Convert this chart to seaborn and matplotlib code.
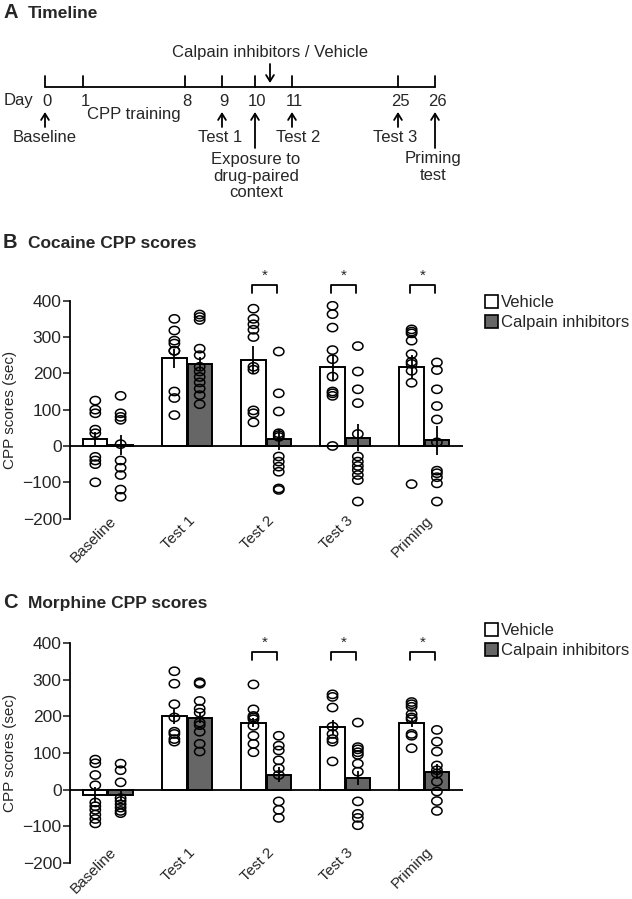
import numpy as np
import pandas as pd
import matplotlib
matplotlib.use("Agg")
import matplotlib.pyplot as plt
from matplotlib.path import Path
from matplotlib.patches import Patch
from matplotlib.transforms import ScaledTranslation
import seaborn as sns

# ---------------- data ----------------
phases = ["Baseline", "Test 1", "Test 2", "Test 3", "Priming"]
groups = ["Vehicle", "Calpain inhibitors"]

# Cocaine (panel B)
coc_veh_mean = [18, 241, 237, 218, 218]
coc_veh_se = [20, 25, 38, 35, 32]
coc_cal_mean = [2, 226, 18, 23, 16]
coc_cal_se = [27, 18, 30, 38, 40]
coc_veh_pts = [
    [125, 100, 90, 45, 35, -30, -40, -50, -100],
    [350, 318, 290, 282, 262, 262, 150, 132, 85],
    [378, 350, 335, 320, 300, 218, 210, 98, 90, 65],
    [386, 363, 326, 264, 239, 191, 150, 145, 138, 0],
    [321, 315, 310, 290, 253, 232, 226, 207, 174, -105],
]
coc_cal_pts = [
    [138, 90, 80, 72, 5, -40, -60, -80, -120, -140],
    [362, 355, 347, 268, 250, 218, 205, 190, 175, 158, 140, 115],
    [260, 145, 95, 35, 30, 25, -29, -43, -57, -71, -117, -121],
    [275, 205, 156, 118, 33, -29, -43, -55, -66, -80, -94, -153],
    [230, 209, 156, 110, 73, 10, -68, -75, -86, -103, -153],
]

# Morphine (panel C)
mor_veh_mean = [-15, 200, 183, 170, 183]
mor_veh_se = [22, 20, 12, 20, 12]
mor_cal_mean = [-15, 196, 41, 32, 49]
mor_cal_se = [12, 15, 20, 20, 20]
mor_veh_pts = [
    [82, 72, 40, 12, -35, -45, -55, -68, -80, -92],
    [323, 289, 233, 197, 158, 152, 138, 131],
    [287, 219, 201, 197, 192, 174, 147, 125, 102],
    [260, 253, 224, 172, 152, 138, 131, 77],
    [239, 233, 226, 206, 197, 192, 152, 147, 113],
]
mor_cal_pts = [
    [71, 53, 20, -23, -31, -40, -49, -58, -64],
    [293, 289, 242, 221, 210, 183, 176, 158, 125, 104],
    [147, 120, 107, 80, 58, 40, -32, -55, -77],
    [183, 116, 110, 102, 95, 71, 49, -32, -66, -77, -97],
    [163, 131, 104, 66, 53, 44, 22, -5, -31, -58],
]
significant = ["Test 2", "Test 3", "Priming"]

# Timeline (panel A)
day_labels = ["0", "1", "8", "9", "10", "11", "25", "26"]
timeline_events = ["Baseline", "Test 1", "Test 2", "Test 3"]

# ---------------- style ----------------
sns.set_style("white")
plt.rcParams["font.family"] = ["Liberation Sans", "DejaVu Sans"]

W, H = 632, 899
fig = plt.figure(figsize=(W / 100, H / 100), dpi=100)

veh_color = "white"
cal_color = "#666666"
palette = {groups[0]: veh_color, groups[1]: cal_color}

# ellipse marker (points look slightly wide)
t = np.linspace(0, 2 * np.pi, 60)
ell = Path(np.column_stack([1.25 * np.cos(t), np.sin(t)]), closed=True)

OFF = 0.16  # half spacing of dodged bars


def fig_axes(left_px, top_px, right_px, bottom_px):
    return fig.add_axes([left_px / W, 1 - bottom_px / H,
                         (right_px - left_px) / W, (bottom_px - top_px) / H])


def draw_panel(ax, veh_mean, veh_se, cal_mean, cal_se, veh_pts, cal_pts,
               br_leg, br_top, star_y, lab_dy):
    df = pd.DataFrame({
        "phase": phases * 2,
        "group": [groups[0]] * 5 + [groups[1]] * 5,
        "score": veh_mean + cal_mean,
    })
    sns.barplot(data=df, x="phase", y="score", hue="group", order=phases,
                hue_order=groups, palette=palette, width=0.64, gap=0.04,
                edgecolor="black", linewidth=1.4, errorbar=None,
                legend=False, ax=ax, zorder=2)
    idx = np.arange(len(phases))
    for sign, m, s in [(-1, veh_mean, veh_se), (1, cal_mean, cal_se)]:
        ax.errorbar(idx + sign * OFF, m, yerr=s, fmt="none", ecolor="black",
                    elinewidth=1.3, capsize=0, zorder=4)
    rows = []
    for i, ph in enumerate(phases):
        for v in veh_pts[i]:
            rows.append((i - OFF, v))
        for v in cal_pts[i]:
            rows.append((i + OFF, v))
    pts = pd.DataFrame(rows, columns=["x", "y"])
    sns.scatterplot(data=pts, x="x", y="y", marker=ell, s=55,
                    facecolor="none", edgecolor="black", linewidth=1.1,
                    ax=ax, zorder=5)
    ax.axhline(0, color="black", lw=1.3, zorder=3)
    ax.set_xlim(-0.48, 4.49)
    ax.set_ylim(-200, 400)
    ax.set_yticks([-200, -100, 0, 100, 200, 300, 400])
    ax.set_xticks(idx)
    ax.tick_params(axis="x", length=0, labelbottom=False)
    tr = ax.get_xaxis_transform() + ScaledTranslation(1 / 100, lab_dy / 100,
                                                      fig.dpi_scale_trans)
    for i, ph in enumerate(phases):
        ax.text(i, 0, ph, transform=tr, rotation=45, ha="right", va="top",
                rotation_mode="anchor", fontsize=11, clip_on=False)
    ax.tick_params(axis="y", direction="out", length=5, width=1.2,
                   labelsize=12.5, pad=1, left=True)
    for sp in ["top", "right", "bottom"]:
        ax.spines[sp].set_visible(False)
    ax.spines["left"].set_linewidth(1.3)
    ax.spines["left"].set_color("black")
    ax.set_xlabel("")
    ax.set_ylabel("CPP scores (sec)", fontsize=11, labelpad=4)
    for ph in significant:
        i = phases.index(ph)
        x0, x1 = i - 0.18, i + 0.14
        ax.plot([x0, x0, x1, x1], [br_leg, br_top, br_top, br_leg],
                color="black", lw=1.3, clip_on=False)
        ax.text((x0 + x1) / 2, star_y, "*", ha="center", va="center",
                fontsize=11, clip_on=False)


# ---------------- panel B ----------------
axB = fig_axes(70, 300.7, 463, 518.6)
draw_panel(axB, coc_veh_mean, coc_veh_se, coc_cal_mean, coc_cal_se,
           coc_veh_pts, coc_cal_pts, 421, 443, 468, 5)

# ---------------- panel C ----------------
axC = fig_axes(70, 643, 463, 863)
draw_panel(axC, mor_veh_mean, mor_veh_se, mor_cal_mean, mor_cal_se,
           mor_veh_pts, mor_cal_pts, 354, 376, 400, 18)

# legends
handles = [Patch(facecolor=veh_color, edgecolor="black", lw=1.2),
           Patch(facecolor=cal_color, edgecolor="black", lw=1.2)]
for ytop in (295, 623):
    fig.legend(handles, groups, loc="upper left",
               bbox_to_anchor=(485 / W, 1 - ytop / H), frameon=False,
               fontsize=12, handlelength=0.8, handleheight=0.8,
               handletextpad=0.15, labelspacing=0.3, borderpad=0,
               borderaxespad=0)

# panel titles
def panel_title(letter, text, y_px):
    fig.text(3 / W, 1 - y_px / H, letter, fontsize=14.5, fontweight="bold",
             ha="left", va="baseline")
    fig.text(28 / W, 1 - y_px / H, text, fontsize=12.5, fontweight="bold",
             ha="left", va="baseline")

panel_title("A", "Timeline", 18)
panel_title("B", "Cocaine CPP scores", 248)
panel_title("C", "Morphine CPP scores", 608)

# ---------------- panel A (timeline) ----------------
axA = fig.add_axes([0, 1 - 215 / H, 1, 215 / H])
axA.set_xlim(0, W)
axA.set_ylim(215, 0)
axA.axis("off")

tick_x = [45, 83, 185, 222, 255, 292, 398, 435]
line_y = 87
axA.plot([tick_x[0], tick_x[-1]], [line_y, line_y], color="black", lw=1.3)
for x, lab in zip(tick_x, day_labels):
    axA.plot([x, x], [line_y - 11, line_y], color="black", lw=1.3)
    axA.text(x + 2, 101, lab, ha="center", va="center", fontsize=12)
axA.text(4, 101, "Day", ha="left", va="center", fontsize=12)
axA.text(87, 115, "CPP training", ha="left", va="center", fontsize=12)

arrow_kw = dict(arrowstyle="->,head_length=0.45,head_width=0.28",
                color="black", lw=1.3, shrinkA=0, shrinkB=0)
event_x = [tick_x[0], tick_x[3], tick_x[5], tick_x[6]]
event_lab_x = [45, 220, 298, 395]
for x, lx, lab in zip(event_x, event_lab_x, timeline_events):
    axA.annotate("", xy=(x, 112), xytext=(x, 127), arrowprops=arrow_kw)
    axA.text(lx, 137, lab, ha="center", va="center", fontsize=12)

axA.annotate("", xy=(tick_x[4], 112), xytext=(tick_x[4], 148), arrowprops=arrow_kw)
axA.text(256, 176, "Exposure to\ndrug-paired\ncontext", ha="center",
         va="center", fontsize=12, linespacing=1.1)
axA.annotate("", xy=(tick_x[7], 112), xytext=(tick_x[7], 148), arrowprops=arrow_kw)
axA.text(433, 167, "Priming\ntest", ha="center", va="center", fontsize=12,
         linespacing=1.1)

axA.text(270, 52, "Calpain inhibitors / Vehicle", ha="center", va="center",
         fontsize=12)
axA.annotate("", xy=(270, 83), xytext=(270, 64), arrowprops=arrow_kw)

fig.savefig("out.png", dpi=100)
